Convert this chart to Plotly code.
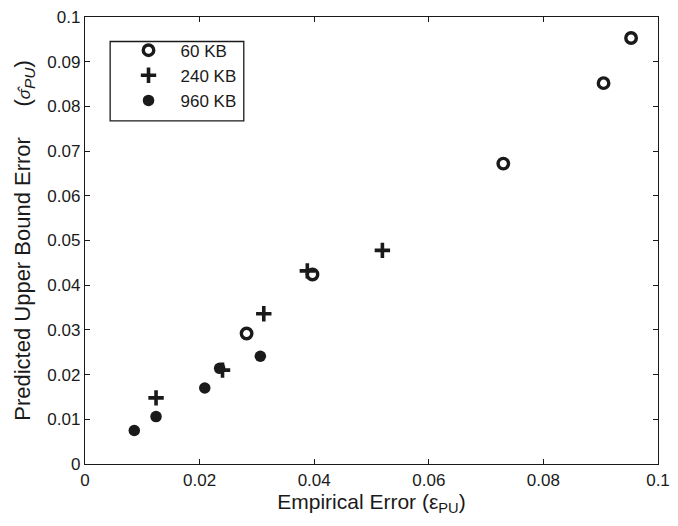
import plotly.graph_objects as go

# 60 KB (open circles)
x_60 = [0.0282, 0.0397, 0.0730, 0.0905, 0.0953]
y_60 = [0.0292, 0.0424, 0.0672, 0.0852, 0.0953]
# 240 KB (plus)
x_240 = [0.0124, 0.0240, 0.0312, 0.0388, 0.0519]
y_240 = [0.0148, 0.0210, 0.0336, 0.0432, 0.0478]
# 960 KB (filled dots)
x_960 = [0.0086, 0.0124, 0.0209, 0.0235, 0.0306]
y_960 = [0.0075, 0.0106, 0.0170, 0.0214, 0.0241]

x_ticks = [0, 0.02, 0.04, 0.06, 0.08, 0.1]
x_ticktext = ["0", "0.02", "0.04", "0.06", "0.08", "0.1"]
y_ticks = [0, 0.01, 0.02, 0.03, 0.04, 0.05, 0.06, 0.07, 0.08, 0.09, 0.1]
y_ticktext = ["0", "0.01", "0.02", "0.03", "0.04", "0.05", "0.06", "0.07", "0.08", "0.09", "0.1"]

FONT = "Liberation Sans, Arial, sans-serif"
INK = "#1a1a1a"

fig = go.Figure()
fig.add_trace(go.Scatter(
    x=x_240, y=y_240, mode="markers", name="240 KB", legendrank=2, legendgroup="b",
    marker=dict(symbol="cross-thin", size=11, color=INK, line=dict(width=3.6, color=INK)),
))
fig.add_trace(go.Scatter(
    x=x_960, y=y_960, mode="markers", name="960 KB", legendrank=3, legendgroup="c",
    marker=dict(symbol="circle", size=11.5, color=INK, line=dict(width=0)),
))
fig.add_trace(go.Scatter(
    x=x_60, y=y_60, mode="markers", name="60 KB", legendrank=1, legendgroup="a",
    marker=dict(symbol="circle-open", size=10.5, color=INK, line=dict(width=3.4, color=INK)),
))

axis_common = dict(
    showline=True, linecolor=INK, linewidth=1.3, mirror="ticks",
    ticks="inside", ticklen=5, tickcolor=INK, tickwidth=1,
    showgrid=False, zeroline=False, ticklabeloverflow="allow",
    tickfont=dict(family=FONT, size=17, color=INK),
)

fig.update_layout(
    width=678, height=526,
    margin=dict(l=85, r=12, t=8, b=62),
    paper_bgcolor="white", plot_bgcolor="white",
    font=dict(family=FONT, color=INK),
    showlegend=True,
    legend=dict(
        x=0.055, y=0.965, xanchor="left", yanchor="top",
        borderwidth=0, bgcolor="rgba(0,0,0,0)",
        font=dict(family=FONT, size=17, color=INK),
        tracegroupgap=0, itemwidth=54,
    ),
    shapes=[dict(type="rect", xref="paper", yref="paper",
                 x0=(110.5 - 85) / 581, x1=(246 - 85) / 581,
                 y0=(464 - 114) / 456, y1=(464 - 33) / 456,
                 line=dict(color=INK, width=1.3), fillcolor="white", layer="below")],
    xaxis=dict(range=[0, 0.1], tickvals=x_ticks, ticktext=x_ticktext,
               title=dict(text="Empirical Error (ε<sub>PU</sub>)", font=dict(family=FONT, size=21, color=INK), standoff=4),
               **axis_common),
    yaxis=dict(range=[0, 0.1], tickvals=y_ticks, ticktext=y_ticktext,
               title=dict(text="Predicted Upper Bound Error     (<i><span style='font-size:17px'>σ̂</span></i><sub><i>PU</i></sub>)",
                          font=dict(family=FONT, size=22, color=INK), standoff=10),
               **axis_common),
)

fig.write_html("out.html")
